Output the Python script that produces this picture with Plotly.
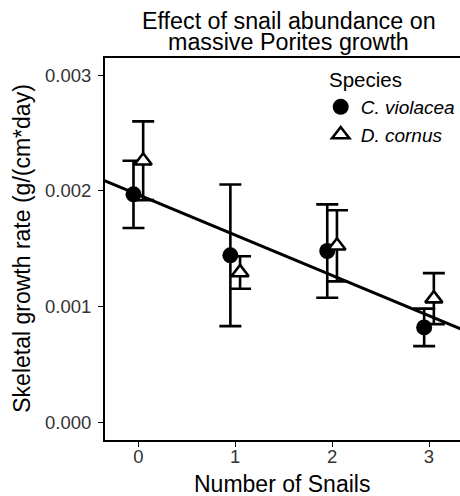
import plotly.graph_objects as go

# ---- data ----
snails = [0, 1, 2, 3]
species = ["C. violacea", "D. cornus"]
cv_mean = [0.00197, 0.001444, 0.001481, 0.000822]
cv_se = [0.00029, 0.000611, 0.000403, 0.000162]
dc_mean = [0.00226, 0.001296, 0.001526, 0.00107]
dc_se = [0.00034, 0.00014, 0.000307, 0.00022]
fit_intercept = 0.001966
fit_slope = -0.000348
x_ticks = [0, 1, 2, 3]
y_ticks = [0.000, 0.001, 0.002, 0.003]

# ---- style ----
FONT = "Liberation Sans, Arial, Helvetica, sans-serif"
DODGE = 0.05
X_RANGE = [-0.344, 3.32]
Y_RANGE = [-0.00015, 0.003147]

fig = go.Figure()

fig.add_trace(go.Scatter(
    x=[s - DODGE for s in snails], y=cv_mean, mode="markers",
    name="<i>" + species[0] + "</i>",
    marker=dict(symbol="circle", size=16, color="black", line=dict(width=0)),
    error_y=dict(type="data", array=cv_se, symmetric=True, color="black",
                 thickness=2.6, width=11),
))
fig.add_trace(go.Scatter(
    x=[s + DODGE for s in snails], y=dc_mean, mode="markers",
    name="<i>" + species[1] + "</i>",
    marker=dict(symbol="triangle-up", size=15, color="white",
                line=dict(width=2.6, color="black")),
    error_y=dict(type="data", array=dc_se, symmetric=True, color="black",
                 thickness=2.6, width=11),
))
fx = [X_RANGE[0] - 0.2, X_RANGE[1] + 0.2]
fig.add_trace(go.Scatter(
    x=fx, y=[fit_intercept + fit_slope * v for v in fx], mode="lines",
    line=dict(color="black", width=3), showlegend=False, hoverinfo="skip",
))

fig.update_layout(
    width=460, height=496,
    margin=dict(l=105, r=0, t=58, b=56, pad=0),
    paper_bgcolor="white", plot_bgcolor="white",
    font=dict(family=FONT, color="black"),
    showlegend=True,
    legend=dict(
        x=0.6076, xanchor="left", y=0.9215, yanchor="top",
        bgcolor="rgba(0,0,0,0)", borderwidth=0,
        font=dict(size=19, color="black", family=FONT),
        tracegroupgap=0, itemsizing="trace",
    ),
    xaxis=dict(
        range=X_RANGE, tickvals=x_ticks, ticktext=[str(t) for t in x_ticks],
        showgrid=False, zeroline=False,
        showline=True, linecolor="black", linewidth=2, mirror=True,
        ticks="outside", ticklen=5, tickwidth=1.3, tickcolor="black",
        tickfont=dict(size=18.5, color="#333333", family=FONT),
        ticklabelstandoff=-6,
    ),
    yaxis=dict(
        range=Y_RANGE, tickvals=y_ticks, ticktext=["%.3f" % t for t in y_ticks],
        showgrid=False, zeroline=False,
        showline=True, linecolor="black", linewidth=2, mirror=False,
        ticks="outside", ticklen=5, tickwidth=1.3, tickcolor="black",
        tickfont=dict(size=18.5, color="#333333", family=FONT),
        ticklabelstandoff=3,
    ),
    annotations=[
        dict(text="Effect of snail abundance on", xref="paper", yref="paper",
             x=0.5183, y=1.0969, xanchor="center", yanchor="middle",
             showarrow=False, font=dict(size=23.3, color="black", family=FONT)),
        dict(text="massive Porites growth", xref="paper", yref="paper",
             x=0.5183, y=1.0419, xanchor="center", yanchor="middle",
             showarrow=False, font=dict(size=23.3, color="black", family=FONT)),
        dict(text="Species", xref="paper", yref="paper",
             x=(326.5 - 105) / 355, y=1 - (79 - 58) / 382, xanchor="left", yanchor="middle",
             showarrow=False, font=dict(size=20.5, color="black", family=FONT)),
        dict(text="Number of Snails", xref="paper", yref="paper",
             x=0.4986, y=-0.1144, xanchor="center", yanchor="middle",
             showarrow=False, font=dict(size=23, color="black", family=FONT)),
        dict(text="Skeletal growth rate (g/(cm*day)", xref="paper", yref="paper",
             x=-0.2346, y=0.5026, xanchor="center", yanchor="middle", textangle=-90,
             showarrow=False, font=dict(size=23, color="black", family=FONT)),
    ],
)

fig.write_html("out.html")
